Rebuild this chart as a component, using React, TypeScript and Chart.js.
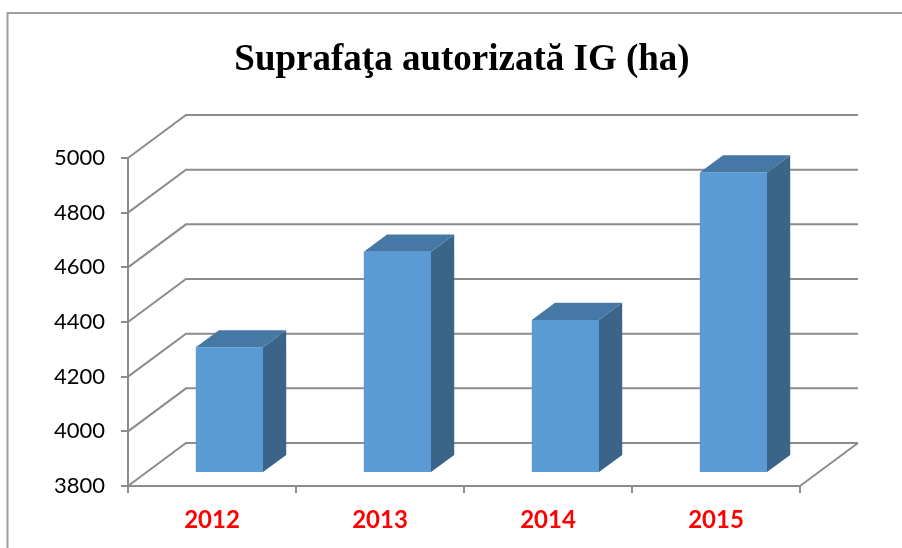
import React, { useEffect, useRef } from "react";
import { Chart, registerables } from "chart.js";

Chart.register(...registerables);

const title = "Suprafaţa autorizată IG (ha)";
const categories = ["2012", "2013", "2014", "2015"];
const values = [4260, 4610, 4360, 4900];
const yMin = 3800;
const yMax = 5000;
const yStep = 200;

const DEPTH_X = 58;
const DEPTH_Y = -43;
const BAR_FRONT = 0.3;
const BAR_BACK = 0.7;
const GRID_COLOR = "#8c8c8c";
const FRONT_COLOR = "#5b9bd5";
const TOP_COLOR = "#4678a6";
const SIDE_COLOR = "#3a6488";

const threeD = {
  id: "threeD",
  beforeDraw(chart: any) {
    const ctx = chart.ctx;
    ctx.save();
    ctx.fillStyle = "#ffffff";
    ctx.fillRect(0, 0, chart.width, chart.height);
    ctx.strokeStyle = "#a0a0a0";
    ctx.lineWidth = 2;
    ctx.beginPath();
    ctx.moveTo(7.5, chart.height);
    ctx.lineTo(7.5, 13);
    ctx.lineTo(chart.width, 13);
    ctx.stroke();
    ctx.fillStyle = "#000000";
    ctx.font = "bold 37px 'Liberation Serif'";
    ctx.textAlign = "center";
    ctx.textBaseline = "alphabetic";
    ctx.fillText(title, 462, 70);
    ctx.restore();
  },
  beforeDatasetsDraw(chart: any) {
    const ctx = chart.ctx;
    const area = chart.chartArea;
    const ys = chart.scales.y;
    ctx.save();
    ctx.strokeStyle = GRID_COLOR;
    ctx.lineWidth = 2;
    ctx.lineJoin = "miter";
    for (const t of ys.ticks) {
      const py = ys.getPixelForValue(t.value);
      ctx.beginPath();
      ctx.moveTo(area.left, py);
      ctx.lineTo(area.left + DEPTH_X, py + DEPTH_Y);
      ctx.lineTo(area.right + DEPTH_X, py + DEPTH_Y);
      ctx.stroke();
    }
    ctx.beginPath();
    ctx.moveTo(area.right, area.bottom);
    ctx.lineTo(area.right + DEPTH_X, area.bottom + DEPTH_Y);
    ctx.stroke();
    ctx.restore();
    ctx.save();
    ctx.translate(DEPTH_X * BAR_FRONT, DEPTH_Y * BAR_FRONT);
  },
  afterDatasetsDraw(chart: any) {
    const ctx = chart.ctx;
    const dx = DEPTH_X * (BAR_BACK - BAR_FRONT);
    const dy = DEPTH_Y * (BAR_BACK - BAR_FRONT);
    const meta = chart.getDatasetMeta(0);
    const bottom = chart.chartArea.bottom;
    for (const bar of meta.data) {
      const p = bar.getProps(["x", "y", "base", "width"], true);
      const base = Math.min(p.base, bottom);
      const l = p.x - p.width / 2;
      const r = p.x + p.width / 2;
      ctx.fillStyle = SIDE_COLOR;
      ctx.beginPath();
      ctx.moveTo(r, p.y);
      ctx.lineTo(r + dx, p.y + dy);
      ctx.lineTo(r + dx, base + dy);
      ctx.lineTo(r, base);
      ctx.closePath();
      ctx.fill();
      ctx.fillStyle = TOP_COLOR;
      ctx.beginPath();
      ctx.moveTo(l, p.y);
      ctx.lineTo(l + dx, p.y + dy);
      ctx.lineTo(r + dx, p.y + dy);
      ctx.lineTo(r, p.y);
      ctx.closePath();
      ctx.fill();
    }
    ctx.restore();
  },
};

export default function App() {
  const ref = useRef<HTMLCanvasElement | null>(null);
  useEffect(() => {
    if (!ref.current) return;
    const chart = new Chart(ref.current, {
      type: "bar",
      data: {
        labels: categories,
        datasets: [
          {
            data: values,
            base: yMin,
            backgroundColor: FRONT_COLOR,
            borderWidth: 0,
            categoryPercentage: 1,
            barPercentage: 0.4,
          },
        ],
      },
      options: {
        responsive: false,
        animation: false,
        devicePixelRatio: 1,
        layout: { padding: { left: 8, top: 158, right: 102, bottom: 0 } },
        plugins: { legend: { display: false }, title: { display: false }, tooltip: { enabled: false } },
        scales: {
          x: {
            grid: {
              display: true,
              drawOnChartArea: false,
              drawTicks: true,
              tickLength: 7,
              color: GRID_COLOR,
              lineWidth: 2,
              offset: true,
            },
            border: { display: true, color: GRID_COLOR, width: 2 },
            ticks: {
              color: "#ff0000",
              font: { family: "Lato", size: 24, weight: "bold" },
              padding: 13,
            },
            afterFit: (s: any) => {
              s.height = 62;
            },
          },
          y: {
            min: yMin,
            max: yMax,
            grid: {
              display: true,
              drawOnChartArea: false,
              drawTicks: true,
              tickLength: 7,
              color: GRID_COLOR,
              lineWidth: 2,
            },
            border: { display: true, color: GRID_COLOR, width: 2 },
            ticks: {
              stepSize: yStep,
              color: "#000000",
              font: { family: "Lato", size: 22 },
              padding: 16,
              callback: (v: any) => String(v),
            },
            afterFit: (s: any) => {
              s.width = 120;
            },
          },
        },
      },
      plugins: [threeD],
    });
    return () => chart.destroy();
  }, []);
  return (
    <div style={{ position: "fixed", left: 0, top: 0, width: 902, height: 548 }}>
      <canvas ref={ref} width={902} height={548} />
    </div>
  );
}
